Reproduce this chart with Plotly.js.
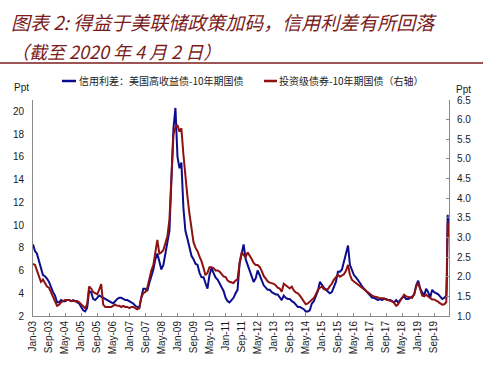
<!DOCTYPE html>
<html>
<head>
<meta charset="utf-8">
<script src="https://cdn.plot.ly/plotly-3.0.1.min.js"></script>
<style>html,body{margin:0;padding:0;background:#fff;}#chart{width:493px;height:366px;}</style>
</head>
<body>
<div id="chart"></div>
<script>
// Monthly readings (first of each month), Jan 2003 .. Feb 2020
var startYear = 2003;
var hySpread = [ // 信用利差：美国高收益债-10年期国债 (left axis, Ppt)
  8.3, 7.7, 7.5, 6.8, 6.1, 5.6, 5.5, 5.3, 5.0, 4.5, 4.1, 3.8,
  3.2, 3.2, 3.4, 3.3, 3.3, 3.4, 3.4, 3.3, 3.4, 3.3, 3.2, 3.1,
  2.8, 2.5, 2.4, 2.7, 4.2, 4.1, 3.5, 3.4, 3.6, 3.8, 3.7, 3.6,
  3.5, 3.4, 3.3, 3.2, 3.1, 3.3, 3.5, 3.6, 3.6, 3.5, 3.4, 3.4,
  3.3, 3.2, 3.1, 2.9, 2.8, 2.7, 3.6, 4.4, 4.4, 4.2, 4.9, 5.4,
  6.1, 7.0, 7.5, 6.8, 6.1, 6.5, 7.6, 8.5, 9.5, 14.0, 18.5, 20.3,
  16.0, 15.0, 15.5, 11.5, 9.5, 8.8, 8.0, 7.3, 7.0, 6.6, 6.5, 5.8,
  5.4, 5.4, 4.9, 4.4, 5.6, 6.2, 5.8, 5.4, 5.2, 4.9, 4.5, 4.2,
  3.6, 3.3, 3.2, 3.4, 3.6, 4.0, 4.3, 6.6, 7.5, 8.3, 7.0, 6.5,
  5.9, 5.3, 5.0, 5.3, 6.0, 5.6, 5.2, 4.7, 4.5, 4.3, 4.3, 4.1,
  4.0, 3.9, 3.9, 3.6, 3.4, 3.8, 3.6, 3.5, 3.5, 3.3, 3.2, 3.0,
  2.8, 2.8, 2.7, 2.6, 2.4, 2.4, 2.5, 3.1, 3.3, 3.7, 4.2, 5.0,
  4.7, 4.5, 4.3, 4.1, 4.0, 4.1, 4.5, 5.0, 5.9, 5.9, 6.1, 6.8,
  7.4, 8.2, 6.5, 6.0, 5.6, 5.4, 5.2, 4.9, 4.6, 4.4, 4.2, 4.0,
  3.8, 3.6, 3.6, 3.5, 3.4, 3.5, 3.4, 3.5, 3.5, 3.4, 3.4, 3.3,
  3.2, 3.4, 3.2, 3.4, 3.6, 3.7, 3.5, 3.5, 3.6, 3.7, 3.9, 4.7,
  5.1, 4.4, 4.1, 3.8, 4.4, 4.1, 3.6, 4.3, 4.1, 4.0, 3.9, 3.7,
  3.5, 3.6
];
var igSpread = [ // 投资级债券-10年期国债 (right axis, Ppt)
  2.33, 2.30, 2.16, 1.98, 1.87, 1.93, 1.84, 1.75, 1.72, 1.61, 1.49, 1.38,
  1.26, 1.29, 1.35, 1.38, 1.41, 1.41, 1.41, 1.38, 1.38, 1.38, 1.38, 1.35,
  1.29, 1.23, 1.20, 1.29, 1.75, 1.70, 1.61, 1.58, 1.55, 1.67, 1.81, 1.29,
  1.23, 1.23, 1.23, 1.23, 1.26, 1.29, 1.26, 1.26, 1.23, 1.26, 1.23, 1.23,
  1.20, 1.23, 1.23, 1.20, 1.17, 1.20, 1.46, 1.58, 1.61, 1.72, 1.96, 2.16,
  2.30, 2.59, 2.94, 2.59, 2.62, 2.68, 2.88, 3.03, 3.46, 4.62, 5.63, 5.80,
  5.86, 5.69, 5.78, 5.11, 4.47, 4.04, 3.61, 3.23, 2.88, 2.74, 2.65, 2.51,
  2.39, 2.22, 2.04, 2.10, 2.24, 2.24, 2.22, 2.16, 2.16, 2.13, 2.07, 2.01,
  1.99, 1.90, 1.87, 1.85, 1.84, 1.90, 1.93, 2.35, 2.62, 2.55, 2.50, 2.62,
  2.55, 2.45, 2.35, 2.30, 2.30, 2.25, 2.15, 2.02, 1.95, 1.88, 1.85, 1.84,
  1.82, 1.78, 1.72, 1.70, 1.62, 1.82, 1.78, 1.72, 1.70, 1.75, 1.65, 1.60,
  1.58, 1.52, 1.45, 1.36, 1.30, 1.32, 1.36, 1.40, 1.46, 1.55, 1.66, 1.72,
  1.75, 1.68, 1.68, 1.68, 1.76, 1.82, 1.92, 1.98, 2.05, 2.00, 2.02, 2.06,
  2.15, 2.30, 2.05, 1.92, 1.88, 1.84, 1.78, 1.74, 1.70, 1.66, 1.62, 1.58,
  1.54, 1.52, 1.50, 1.49, 1.47, 1.45, 1.45, 1.45, 1.42, 1.41, 1.39, 1.37,
  1.33, 1.26, 1.30, 1.38, 1.45, 1.54, 1.50, 1.48, 1.47, 1.46, 1.55, 1.75,
  1.84, 1.66, 1.52, 1.50, 1.54, 1.50, 1.45, 1.42, 1.42, 1.40, 1.36, 1.32,
  1.29, 1.30
];
// March 2020 stress period (finer readings)
var endDates = ['2020-03-01', '2020-03-09', '2020-03-16', '2020-03-23', '2020-04-02'];
var hyEnd = [3.8, 5.5, 8.7, 10.9, 9.8];
var igEnd = [1.35, 1.70, 2.70, 3.40, 3.00];

var seriesNames = ['信用利差：美国高收益债-10年期国债', '投资级债券-10年期国债（右轴）'];
var seriesColors = ['#0c0c8c', '#8e1212'];
var titleLines = ['图表 2: 得益于美联储政策加码，信用利差有所回落', '（截至 2020 年 4 月 2 日）'];

function monthDates(n) {
  var out = [];
  for (var i = 0; i < n; i++) {
    var y = startYear + Math.floor(i / 12), m = (i % 12) + 1;
    out.push(y + '-' + (m < 10 ? '0' + m : m) + '-01');
  }
  return out;
}
var dates = monthDates(hySpread.length).concat(endDates);
var hy = hySpread.concat(hyEnd);
var ig = igSpread.concat(igEnd);

// plot area pixel geometry helpers (for paper-coordinate decorations)
var W = 493, H = 366, L = 33, R = 449, T = 100, B = 316;
function px(x) { return (x - L) / (R - L); }
function py(y) { return (B - y) / (B - T); }

var traces = [
  {x: dates, y: hy, type: 'scatter', mode: 'lines', name: seriesNames[0],
   line: {color: seriesColors[0], width: 2}, yaxis: 'y', showlegend: false},
  {x: dates, y: ig, type: 'scatter', mode: 'lines', name: seriesNames[1],
   line: {color: seriesColors[1], width: 2}, yaxis: 'y2', showlegend: false}
];

var tickFont = {family: 'Liberation Sans, Arial, sans-serif', size: 10, color: '#1a1a1a'};
var cjk = 'Noto Sans CJK SC, sans-serif';

var layout = {
  width: W, height: H,
  margin: {l: L, r: W - R, t: T, b: H - B, pad: 0},
  paper_bgcolor: '#ffffff', plot_bgcolor: '#ffffff',
  showlegend: false,
  xaxis: {
    type: 'date', range: ['2003-01-01', '2020-04-12'],
    tick0: '2003-01-01', dtick: 'M8', tickformat: '%b-%y', tickangle: -90,
    ticks: 'inside', ticklen: 3, tickcolor: '#8a8a8a',
    showline: true, linecolor: '#8a8a8a', linewidth: 1,
    showgrid: false, zeroline: false, tickfont: tickFont
  },
  yaxis: {
    range: [2, 21], tick0: 2, dtick: 2,
    ticks: '', showline: true, linecolor: '#8a8a8a', linewidth: 1,
    showgrid: false, zeroline: false, tickfont: tickFont, ticklabelstandoff: 6
  },
  yaxis2: {
    overlaying: 'y', side: 'right', range: [1, 6.5], tick0: 1, dtick: 0.5, tickformat: '.1f',
    ticks: 'inside', ticklen: 3, tickcolor: '#8a8a8a',
    showline: true, linecolor: '#8a8a8a', linewidth: 1,
    showgrid: false, zeroline: false, tickfont: tickFont, ticklabelstandoff: 5
  },
  shapes: [
    {type: 'line', xref: 'paper', yref: 'paper', x0: px(0), x1: px(483), y0: py(63), y1: py(63),
     line: {color: '#7a1c1c', width: 1.5}},
    {type: 'line', xref: 'paper', yref: 'paper', x0: px(62), x1: px(76), y0: py(81), y1: py(81),
     line: {color: seriesColors[0], width: 2.5}},
    {type: 'line', xref: 'paper', yref: 'paper', x0: px(264), x1: px(277), y0: py(81), y1: py(81),
     line: {color: seriesColors[1], width: 2.5}}
  ],
  annotations: [
    {text: titleLines[0], xref: 'paper', yref: 'paper', x: px(9), y: py(22), xanchor: 'left', yanchor: 'middle',
     showarrow: false, font: {family: cjk, size: 19, color: '#7a1c1c', style: 'italic'}},
    {text: titleLines[1], xref: 'paper', yref: 'paper', x: px(9), y: py(51), xanchor: 'left', yanchor: 'middle',
     showarrow: false, font: {family: cjk, size: 18, color: '#7a1c1c', style: 'italic'}},
    {text: seriesNames[0], xref: 'paper', yref: 'paper', x: px(77), y: py(81), xanchor: 'left', yanchor: 'middle',
     showarrow: false, font: {family: cjk, size: 10, color: '#222222'}},
    {text: seriesNames[1], xref: 'paper', yref: 'paper', x: px(277), y: py(81), xanchor: 'left', yanchor: 'middle',
     showarrow: false, font: {family: cjk, size: 10, color: '#222222'}},
    {text: 'Ppt', xref: 'paper', yref: 'paper', x: px(21), y: py(87), xanchor: 'center', yanchor: 'middle',
     showarrow: false, font: tickFont},
    {text: 'Ppt', xref: 'paper', yref: 'paper', x: px(463), y: py(89), xanchor: 'center', yanchor: 'middle',
     showarrow: false, font: tickFont}
  ]
};

Plotly.newPlot('chart', traces, layout, {displayModeBar: false, staticPlot: true});
</script>
</body>
</html>
